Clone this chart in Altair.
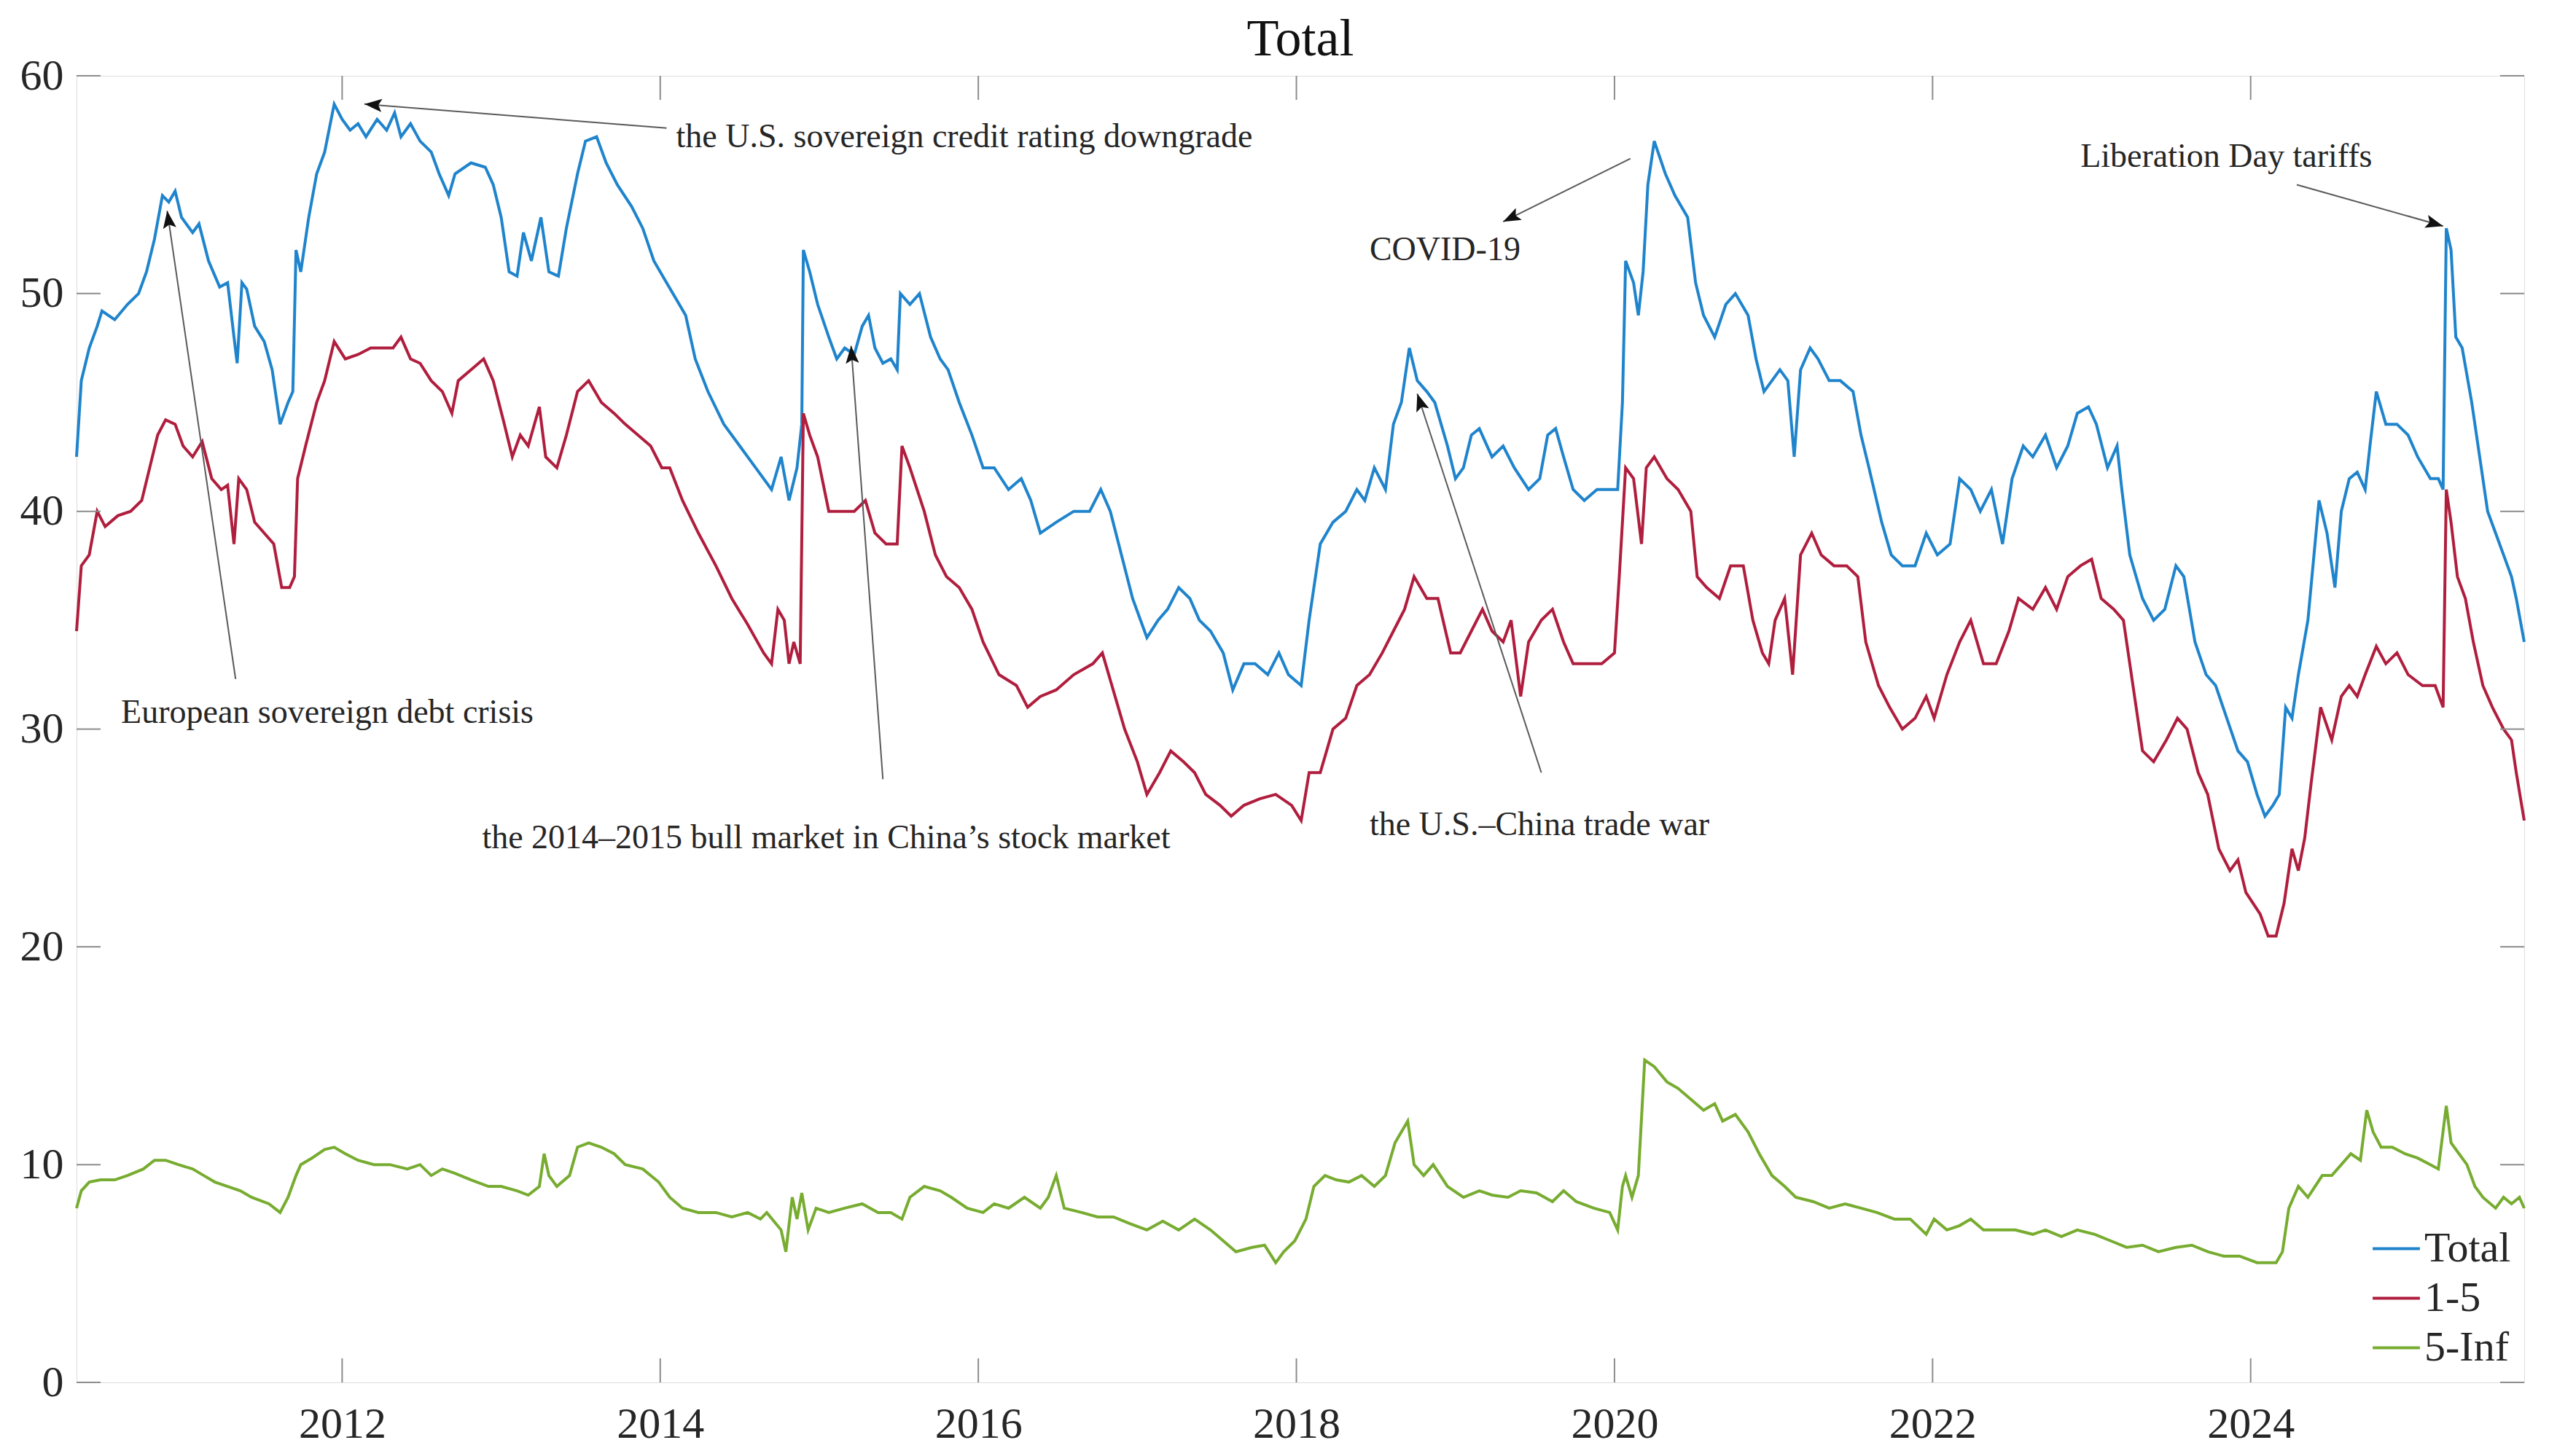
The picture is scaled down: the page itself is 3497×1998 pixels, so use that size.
import math
import altair as alt
import pandas as pd

# ---------------- data (decimal years, index values) ----------------
total_year = [2010.33, 2010.36, 2010.41, 2010.46, 2010.49, 2010.57, 2010.65, 2010.72, 2010.77, 2010.82,
              2010.87, 2010.91, 2010.95, 2010.99, 2011.06, 2011.10, 2011.16, 2011.23, 2011.28, 2011.32,
              2011.34, 2011.37, 2011.40, 2011.45, 2011.51, 2011.56, 2011.61, 2011.66, 2011.69, 2011.71,
              2011.74, 2011.79, 2011.84, 2011.89, 2011.95, 2012.00, 2012.05, 2012.10, 2012.15, 2012.22,
              2012.28, 2012.33, 2012.37, 2012.43, 2012.49, 2012.56, 2012.61, 2012.67, 2012.71, 2012.81,
              2012.90, 2012.95, 2013.00, 2013.05, 2013.10, 2013.14, 2013.19, 2013.25, 2013.30, 2013.36,
              2013.41, 2013.48, 2013.53, 2013.60, 2013.66, 2013.73, 2013.82, 2013.89, 2013.96, 2014.04,
              2014.12, 2014.16, 2014.22, 2014.30, 2014.40, 2014.50, 2014.60, 2014.70, 2014.76, 2014.81,
              2014.86, 2014.89, 2014.90, 2014.94, 2014.99, 2015.06, 2015.11, 2015.16, 2015.22, 2015.27,
              2015.31, 2015.35, 2015.40, 2015.45, 2015.49, 2015.51, 2015.57, 2015.63, 2015.70, 2015.76,
              2015.81, 2015.88, 2015.96, 2016.03, 2016.10, 2016.19, 2016.27, 2016.33, 2016.39, 2016.49,
              2016.60, 2016.70, 2016.77, 2016.83, 2016.90, 2016.97, 2017.06, 2017.13, 2017.19, 2017.26,
              2017.33, 2017.39, 2017.46, 2017.54, 2017.60, 2017.67, 2017.74, 2017.82, 2017.89, 2017.95,
              2018.03, 2018.08, 2018.15, 2018.23, 2018.31, 2018.38, 2018.43, 2018.49, 2018.56, 2018.61,
              2018.66, 2018.71, 2018.76, 2018.82, 2018.87, 2018.95, 2019.00, 2019.05, 2019.10, 2019.15,
              2019.23, 2019.30, 2019.37, 2019.46, 2019.53, 2019.58, 2019.63, 2019.68, 2019.74, 2019.81,
              2019.89, 2019.97, 2020.02, 2020.05, 2020.07, 2020.12, 2020.15, 2020.18, 2020.21, 2020.25,
              2020.32, 2020.38, 2020.46, 2020.51, 2020.56, 2020.63, 2020.70, 2020.76, 2020.84, 2020.89,
              2020.94, 2020.99, 2021.04, 2021.09, 2021.13, 2021.17, 2021.23, 2021.28, 2021.35, 2021.42,
              2021.50, 2021.55, 2021.60, 2021.68, 2021.74, 2021.81, 2021.89, 2021.96, 2022.03, 2022.11,
              2022.17, 2022.24, 2022.30, 2022.37, 2022.44, 2022.50, 2022.57, 2022.63, 2022.71, 2022.78,
              2022.85, 2022.91, 2022.98, 2023.03, 2023.10, 2023.16, 2023.19, 2023.24, 2023.32, 2023.39,
              2023.46, 2023.53, 2023.58, 2023.65, 2023.72, 2023.78, 2023.85, 2023.92, 2023.98, 2024.04,
              2024.09, 2024.14, 2024.18, 2024.22, 2024.26, 2024.30, 2024.36, 2024.43, 2024.48, 2024.53,
              2024.57, 2024.62, 2024.67, 2024.72, 2024.75, 2024.79, 2024.85, 2024.92, 2024.99, 2025.05,
              2025.13, 2025.18, 2025.21, 2025.23, 2025.26, 2025.29, 2025.33, 2025.39, 2025.44, 2025.49,
              2025.54, 2025.59, 2025.64, 2025.67, 2025.72]
total_val = [42.5, 46.0, 47.5, 48.5, 49.2, 48.8, 49.5, 50.0, 51.0, 52.5,
             54.5, 54.2, 54.7, 53.5, 52.8, 53.2, 51.5, 50.3, 50.5, 48.0,
             46.8, 50.5, 50.2, 48.5, 47.8, 46.5, 44.0, 45.0, 45.5, 52.0,
             51.0, 53.5, 55.5, 56.5, 58.7, 58.0, 57.5, 57.8, 57.2, 58.0,
             57.5, 58.3, 57.2, 57.8, 57.0, 56.5, 55.5, 54.5, 55.5, 56.0,
             55.8, 55.0, 53.5, 51.0, 50.8, 52.8, 51.5, 53.5, 51.0, 50.8,
             53.0, 55.5, 57.0, 57.2, 56.0, 55.0, 54.0, 53.0, 51.5, 50.5,
             49.5, 49.0, 47.0, 45.5, 44.0, 43.0, 42.0, 41.0, 42.5, 40.5,
             42.0, 44.0, 52.0, 51.0, 49.5, 48.0, 47.0, 47.5, 47.2, 48.5,
             49.0, 47.5, 46.8, 47.0, 46.5, 50.0, 49.5, 50.0, 48.0, 47.0,
             46.5, 45.0, 43.5, 42.0, 42.0, 41.0, 41.5, 40.5, 39.0, 39.5,
             40.0, 40.0, 41.0, 40.0, 38.0, 36.0, 34.2, 35.0, 35.5, 36.5,
             36.0, 35.0, 34.5, 33.5, 31.8, 33.0, 33.0, 32.5, 33.5, 32.5,
             32.0, 35.0, 38.5, 39.5, 40.0, 41.0, 40.5, 42.0, 41.0, 44.0,
             45.0, 47.5, 46.0, 45.5, 45.0, 43.0, 41.5, 42.0, 43.5, 43.8,
             42.5, 43.0, 42.0, 41.0, 41.5, 43.5, 43.8, 42.5, 41.0, 40.5,
             41.0, 41.0, 41.0, 45.0, 51.5, 50.5, 49.0, 51.0, 55.0, 57.0,
             55.5, 54.5, 53.5, 50.5, 49.0, 48.0, 49.5, 50.0, 49.0, 47.0,
             45.5, 46.0, 46.5, 46.0, 42.5, 46.5, 47.5, 47.0, 46.0, 46.0,
             45.5, 43.5, 42.0, 39.5, 38.0, 37.5, 37.5, 39.0, 38.0, 38.5,
             41.5, 41.0, 40.0, 41.0, 38.5, 41.5, 43.0, 42.5, 43.5, 42.0,
             43.0, 44.5, 44.8, 44.0, 42.0, 43.0, 41.0, 38.0, 36.0, 35.0,
             35.5, 37.5, 37.0, 34.0, 32.5, 32.0, 30.5, 29.0, 28.5, 27.0,
             26.0, 26.5, 27.0, 31.0, 30.5, 32.5, 35.0, 40.5, 39.0, 36.5,
             40.0, 41.5, 41.8, 41.0, 43.0, 45.5, 44.0, 44.0, 43.5, 42.5,
             41.5, 41.5, 41.0, 53.0, 52.0, 48.0, 47.5, 45.0, 42.5, 40.0,
             39.0, 38.0, 37.0, 36.0, 34.0]

r15_year = [2010.33, 2010.36, 2010.41, 2010.46, 2010.51, 2010.59, 2010.67, 2010.74, 2010.79, 2010.84,
            2010.89, 2010.95, 2011.00, 2011.06, 2011.12, 2011.18, 2011.24, 2011.28, 2011.32, 2011.35,
            2011.40, 2011.45, 2011.51, 2011.57, 2011.62, 2011.67, 2011.70, 2011.72, 2011.77, 2011.84,
            2011.89, 2011.95, 2012.02, 2012.10, 2012.18, 2012.26, 2012.32, 2012.37, 2012.43, 2012.49,
            2012.56, 2012.63, 2012.69, 2012.73, 2012.81, 2012.89, 2012.95, 2013.02, 2013.07, 2013.12,
            2013.17, 2013.24, 2013.28, 2013.35, 2013.41, 2013.48, 2013.55, 2013.63, 2013.71, 2013.78,
            2013.86, 2013.94, 2014.01, 2014.06, 2014.14, 2014.24, 2014.35, 2014.45, 2014.55, 2014.65,
            2014.70, 2014.74, 2014.78, 2014.81, 2014.84, 2014.88, 2014.90, 2014.94, 2014.99, 2015.06,
            2015.14, 2015.22, 2015.29, 2015.35, 2015.42, 2015.49, 2015.52, 2015.57, 2015.66, 2015.73,
            2015.80, 2015.88, 2015.96, 2016.03, 2016.13, 2016.24, 2016.31, 2016.39, 2016.49, 2016.60,
            2016.72, 2016.78, 2016.84, 2016.92, 2017.00, 2017.06, 2017.14, 2017.21, 2017.29, 2017.36,
            2017.43, 2017.52, 2017.59, 2017.67, 2017.77, 2017.87, 2017.97, 2018.03, 2018.08, 2018.15,
            2018.23, 2018.31, 2018.38, 2018.46, 2018.54, 2018.61, 2018.68, 2018.74, 2018.82, 2018.89,
            2018.97, 2019.03, 2019.10, 2019.17, 2019.23, 2019.30, 2019.35, 2019.41, 2019.46, 2019.54,
            2019.61, 2019.68, 2019.74, 2019.81, 2019.92, 2020.00, 2020.03, 2020.07, 2020.12, 2020.17,
            2020.20, 2020.25, 2020.33, 2020.40, 2020.48, 2020.52, 2020.58, 2020.66, 2020.73, 2020.81,
            2020.87, 2020.93, 2020.97, 2021.01, 2021.07, 2021.12, 2021.17, 2021.24, 2021.30, 2021.38,
            2021.46, 2021.53, 2021.58, 2021.66, 2021.73, 2021.81, 2021.89, 2021.96, 2022.01, 2022.09,
            2022.17, 2022.24, 2022.32, 2022.40, 2022.48, 2022.54, 2022.63, 2022.71, 2022.78, 2022.85,
            2022.93, 2023.00, 2023.06, 2023.14, 2023.20, 2023.26, 2023.32, 2023.39, 2023.47, 2023.54,
            2023.60, 2023.67, 2023.73, 2023.80, 2023.87, 2023.92, 2023.97, 2024.06, 2024.11, 2024.16,
            2024.21, 2024.26, 2024.30, 2024.34, 2024.38, 2024.44, 2024.51, 2024.57, 2024.62, 2024.67,
            2024.72, 2024.79, 2024.85, 2024.92, 2024.99, 2025.08, 2025.16, 2025.21, 2025.23, 2025.26,
            2025.30, 2025.35, 2025.40, 2025.46, 2025.52, 2025.59, 2025.64, 2025.67, 2025.72]
r15_val = [34.5, 37.5, 38.0, 40.0, 39.3, 39.8, 40.0, 40.5, 42.0, 43.5,
           44.2, 44.0, 43.0, 42.5, 43.2, 41.5, 41.0, 41.2, 38.5, 41.5,
           41.0, 39.5, 39.0, 38.5, 36.5, 36.5, 37.0, 41.5, 43.0, 45.0,
           46.0, 47.8, 47.0, 47.2, 47.5, 47.5, 47.5, 48.0, 47.0, 46.8,
           46.0, 45.5, 44.5, 46.0, 46.5, 47.0, 46.0, 44.0, 42.5, 43.5,
           43.0, 44.8, 42.5, 42.0, 43.5, 45.5, 46.0, 45.0, 44.5, 44.0,
           43.5, 43.0, 42.0, 42.0, 40.5, 39.0, 37.5, 36.0, 34.8, 33.5,
           33.0, 35.5, 35.0, 33.0, 34.0, 33.0, 44.5, 43.5, 42.5, 40.0,
           40.0, 40.0, 40.5, 39.0, 38.5, 38.5, 43.0, 42.0, 40.0, 38.0,
           37.0, 36.5, 35.5, 34.0, 32.5, 32.0, 31.0, 31.5, 31.8, 32.5,
           33.0, 33.5, 32.0, 30.0, 28.5, 27.0, 28.0, 29.0, 28.5, 28.0,
           27.0, 26.5, 26.0, 26.5, 26.8, 27.0, 26.5, 25.8, 28.0, 28.0,
           30.0, 30.5, 32.0, 32.5, 33.5, 34.5, 35.5, 37.0, 36.0, 36.0,
           33.5, 33.5, 34.5, 35.5, 34.5, 34.0, 35.0, 31.5, 34.0, 35.0,
           35.5, 34.0, 33.0, 33.0, 33.0, 33.5, 37.0, 42.0, 41.5, 38.5,
           42.0, 42.5, 41.5, 41.0, 40.0, 37.0, 36.5, 36.0, 37.5, 37.5,
           35.0, 33.5, 33.0, 35.0, 36.0, 32.5, 38.0, 39.0, 38.0, 37.5,
           37.5, 37.0, 34.0, 32.0, 31.0, 30.0, 30.5, 31.5, 30.5, 32.5,
           34.0, 35.0, 33.0, 33.0, 34.5, 36.0, 35.5, 36.5, 35.5, 37.0,
           37.5, 37.8, 36.0, 35.5, 35.0, 32.0, 29.0, 28.5, 29.5, 30.5,
           30.0, 28.0, 27.0, 24.5, 23.5, 24.0, 22.5, 21.5, 20.5, 20.5,
           22.0, 24.5, 23.5, 25.0, 27.5, 31.0, 29.5, 31.5, 32.0, 31.5,
           32.5, 33.8, 33.0, 33.5, 32.5, 32.0, 32.0, 31.0, 41.0, 39.5,
           37.0, 36.0, 34.0, 32.0, 31.0, 30.0, 29.5, 28.0, 25.8]

r5inf_year = [2010.33, 2010.36, 2010.41, 2010.48, 2010.57, 2010.65, 2010.75, 2010.82, 2010.89, 2010.97,
              2011.06, 2011.13, 2011.20, 2011.28, 2011.36, 2011.43, 2011.54, 2011.61, 2011.66, 2011.71,
              2011.74, 2011.81, 2011.89, 2011.95, 2012.02, 2012.10, 2012.20, 2012.30, 2012.41, 2012.49,
              2012.56, 2012.63, 2012.71, 2012.81, 2012.92, 2013.00, 2013.10, 2013.17, 2013.24, 2013.27,
              2013.30, 2013.35, 2013.43, 2013.48, 2013.55, 2013.63, 2013.71, 2013.78, 2013.89, 2013.99,
              2014.06, 2014.14, 2014.24, 2014.35, 2014.45, 2014.55, 2014.63, 2014.67, 2014.76, 2014.79,
              2014.83, 2014.86, 2014.89, 2014.93, 2014.98, 2015.06, 2015.16, 2015.27, 2015.37, 2015.45,
              2015.52, 2015.57, 2015.66, 2015.76, 2015.83, 2015.93, 2016.03, 2016.10, 2016.19, 2016.29,
              2016.39, 2016.44, 2016.49, 2016.54, 2016.65, 2016.75, 2016.85, 2016.95, 2017.06, 2017.16,
              2017.26, 2017.36, 2017.46, 2017.54, 2017.62, 2017.72, 2017.80, 2017.87, 2017.92, 2017.99,
              2018.06, 2018.11, 2018.18, 2018.25, 2018.33, 2018.41, 2018.49, 2018.56, 2018.62, 2018.66,
              2018.70, 2018.74, 2018.80, 2018.86, 2018.95, 2019.05, 2019.15, 2019.23, 2019.33, 2019.41,
              2019.51, 2019.61, 2019.68, 2019.76, 2019.87, 2019.97, 2020.02, 2020.05, 2020.07, 2020.11,
              2020.15, 2020.19, 2020.25, 2020.33, 2020.40, 2020.48, 2020.56, 2020.63, 2020.68, 2020.76,
              2020.84, 2020.91, 2020.99, 2021.07, 2021.14, 2021.25, 2021.35, 2021.45, 2021.55, 2021.65,
              2021.76, 2021.86, 2021.96, 2022.01, 2022.09, 2022.17, 2022.24, 2022.32, 2022.42, 2022.52,
              2022.63, 2022.71, 2022.81, 2022.91, 2023.02, 2023.12, 2023.22, 2023.32, 2023.42, 2023.53,
              2023.63, 2023.73, 2023.83, 2023.93, 2024.04, 2024.10, 2024.16, 2024.20, 2024.24, 2024.30,
              2024.36, 2024.45, 2024.51, 2024.57, 2024.63, 2024.69, 2024.73, 2024.77, 2024.82, 2024.89,
              2024.97, 2025.05, 2025.13, 2025.18, 2025.23, 2025.26, 2025.31, 2025.36, 2025.41, 2025.46,
              2025.54, 2025.59, 2025.64, 2025.69, 2025.72]
r5inf_val = [8.0, 8.8, 9.2, 9.3, 9.3, 9.5, 9.8, 10.2, 10.2, 10.0,
             9.8, 9.5, 9.2, 9.0, 8.8, 8.5, 8.2, 7.8, 8.5, 9.5,
             10.0, 10.3, 10.7, 10.8, 10.5, 10.2, 10.0, 10.0, 9.8, 10.0,
             9.5, 9.8, 9.6, 9.3, 9.0, 9.0, 8.8, 8.6, 9.0, 10.5,
             9.5, 9.0, 9.5, 10.8, 11.0, 10.8, 10.5, 10.0, 9.8, 9.2,
             8.5, 8.0, 7.8, 7.8, 7.6, 7.8, 7.5, 7.8, 7.0, 6.0,
             8.5, 7.5, 8.7, 7.0, 8.0, 7.8, 8.0, 8.2, 7.8, 7.8,
             7.5, 8.5, 9.0, 8.8, 8.5, 8.0, 7.8, 8.2, 8.0, 8.5,
             8.0, 8.5, 9.5, 8.0, 7.8, 7.6, 7.6, 7.3, 7.0, 7.4,
             7.0, 7.5, 7.0, 6.5, 6.0, 6.2, 6.3, 5.5, 6.0, 6.5,
             7.5, 9.0, 9.5, 9.3, 9.2, 9.5, 9.0, 9.5, 11.0, 11.5,
             12.0, 10.0, 9.5, 10.0, 9.0, 8.5, 8.8, 8.6, 8.5, 8.8,
             8.7, 8.3, 8.8, 8.3, 8.0, 7.8, 7.0, 9.0, 9.5, 8.5,
             9.5, 14.8, 14.5, 13.8, 13.5, 13.0, 12.5, 12.8, 12.0, 12.3,
             11.5, 10.5, 9.5, 9.0, 8.5, 8.3, 8.0, 8.2, 8.0, 7.8,
             7.5, 7.5, 6.8, 7.5, 7.0, 7.2, 7.5, 7.0, 7.0, 7.0,
             6.8, 7.0, 6.7, 7.0, 6.8, 6.5, 6.2, 6.3, 6.0, 6.2,
             6.3, 6.0, 5.8, 5.8, 5.5, 5.5, 5.5, 6.0, 8.0, 9.0,
             8.5, 9.5, 9.5, 10.0, 10.5, 10.2, 12.5, 11.5, 10.8, 10.8,
             10.5, 10.3, 10.0, 9.8, 12.7, 11.0, 10.5, 10.0, 9.0, 8.5,
             8.0, 8.5, 8.2, 8.5, 8.0]

series_names = ["Total", "1-5", "5-Inf"]
series_colors = ["#1f84cc", "#b01e3e", "#77ac30"]

x_tick_years = [2012, 2014, 2016, 2018, 2020, 2022, 2024]
y_tick_values = [0, 10, 20, 30, 40, 50, 60]
x_domain = [2010.33, 2025.72]
y_domain = [0, 60]

ann_labels = ["European sovereign debt crisis",
              "the U.S. sovereign credit rating downgrade",
              "COVID-19",
              "Liberation Day tariffs",
              "the 2014\u20132015 bull market in China\u2019s stock market",
              "the U.S.\u2013China trade war"]
ann_text_year = [2010.61, 2014.10, 2018.46, 2022.93, 2012.88, 2018.46]
ann_text_val = [30.75, 57.2, 52.0, 56.3, 25.0, 25.6]
arrow_from_year = [2011.33, 2014.04, 2020.10, 2024.29, 2015.40, 2019.54]
arrow_from_val = [32.3, 57.6, 56.2, 55.0, 27.7, 28.0]
arrow_to_year = [2010.90, 2012.14, 2019.30, 2025.21, 2015.20, 2018.76]
arrow_to_val = [53.8, 58.7, 53.3, 53.1, 47.6, 45.4]

# ---------------- layout / style ----------------
W, H = 3358, 1793
FONT = "Liberation Serif"
TXT = "#262626"
TICK_LEN = 33

rows = []
for name, ys, vs in [("Total", total_year, total_val),
                     ("1-5", r15_year, r15_val),
                     ("5-Inf", r5inf_year, r5inf_val)]:
    for t, v in zip(ys, vs):
        rows.append({"t": t, "v": v, "series": name})
df = pd.DataFrame(rows)

x_scale = alt.Scale(domain=x_domain, nice=False, zero=False)
y_scale = alt.Scale(domain=y_domain, nice=False, zero=False)
x_axis = alt.Axis(values=x_tick_years, format="d", title=None, grid=False, domain=False,
                  ticks=False, labelFont=FONT, labelFontSize=60, labelColor=TXT, labelPadding=28)
y_axis = alt.Axis(values=y_tick_values, format="d", title=None, grid=False, domain=False,
                  ticks=False, labelFont=FONT, labelFontSize=60, labelColor=TXT, labelPadding=18)

def X(field):
    return alt.X(field, type="quantitative", scale=x_scale, axis=x_axis)

def Y(field):
    return alt.Y(field, type="quantitative", scale=y_scale, axis=y_axis)

lines = alt.Chart(df).mark_line(strokeWidth=4).encode(
    x=X("t"), y=Y("v"),
    color=alt.Color("series:N",
                    scale=alt.Scale(domain=series_names, range=series_colors),
                    sort=series_names,
                    legend=alt.Legend(title=None, orient="bottom-right", offset=12,
                                      labelFont=FONT, labelFontSize=58, labelColor=TXT,
                                      symbolType="stroke", symbolSize=4200, symbolStrokeWidth=4,
                                      rowPadding=4, labelOffset=4, padding=6)),
    order=alt.Order("t:Q"),
)

df_xt = pd.DataFrame({"t": x_tick_years})
df_yt = pd.DataFrame({"v": y_tick_values})
tick_col = "#8c8c8c"
xt_bottom = alt.Chart(df_xt).mark_rule(color=tick_col, strokeWidth=2).encode(
    x=X("t"), y=alt.value(H), y2=alt.value(H - TICK_LEN))
xt_top = alt.Chart(df_xt).mark_rule(color=tick_col, strokeWidth=2).encode(
    x=X("t"), y=alt.value(0), y2=alt.value(TICK_LEN))
yt_left = alt.Chart(df_yt).mark_rule(color=tick_col, strokeWidth=2).encode(
    y=Y("v"), x=alt.value(0), x2=alt.value(TICK_LEN))
yt_right = alt.Chart(df_yt).mark_rule(color=tick_col, strokeWidth=2).encode(
    y=Y("v"), x=alt.value(W), x2=alt.value(W - TICK_LEN))

# arrow heads: angle from direction in pixel space
angles = []
for x1, y1, x2, y2 in zip(arrow_from_year, arrow_from_val, arrow_to_year, arrow_to_val):
    dx = (x2 - x1) * W / (x_domain[1] - x_domain[0])
    dy = -(y2 - y1) * H / (y_domain[1] - y_domain[0])
    ang = math.degrees(math.atan2(dx, -dy)) % 360
    angles.append(ang)

df_arrow = pd.DataFrame({"t": arrow_from_year, "v": arrow_from_val,
                         "t2": arrow_to_year, "v2": arrow_to_val, "ang": angles})
df_text = pd.DataFrame({"t": ann_text_year, "v": ann_text_val, "label": ann_labels})

arrow_lines = alt.Chart(df_arrow).mark_rule(color="#5a5a5a", strokeWidth=2).encode(
    x=X("t"), y=Y("v"), x2="t2:Q", y2="v2:Q")
arrow_heads = alt.Chart(df_arrow).mark_point(
    shape="M0,0L-0.38,1L0,0.8L0.38,1Z", filled=True, size=2300, color="#111111", opacity=1,
    strokeWidth=0).encode(
    x=alt.X("t2:Q", scale=x_scale, axis=x_axis), y=alt.Y("v2:Q", scale=y_scale, axis=y_axis),
    angle=alt.Angle("ang:Q", scale=None))
texts = alt.Chart(df_text).mark_text(align="left", baseline="middle", font=FONT,
                                     fontSize=46, color=TXT).encode(
    x=X("t"), y=Y("v"), text="label:N")

chart = alt.layer(lines, xt_bottom, xt_top, yt_left, yt_right, arrow_lines, arrow_heads, texts).properties(
    width=W, height=H,
    title=alt.TitleParams("Total", font=FONT, fontSize=72, fontWeight="normal", color="#111111",
                          offset=-17),
    padding={"left": 19, "top": 10, "right": 5, "bottom": 5},
).configure_view(stroke="#ababab", strokeWidth=3).configure(background="white")

chart.save("out.html", embed_options={"renderer": "svg", "actions": False})
